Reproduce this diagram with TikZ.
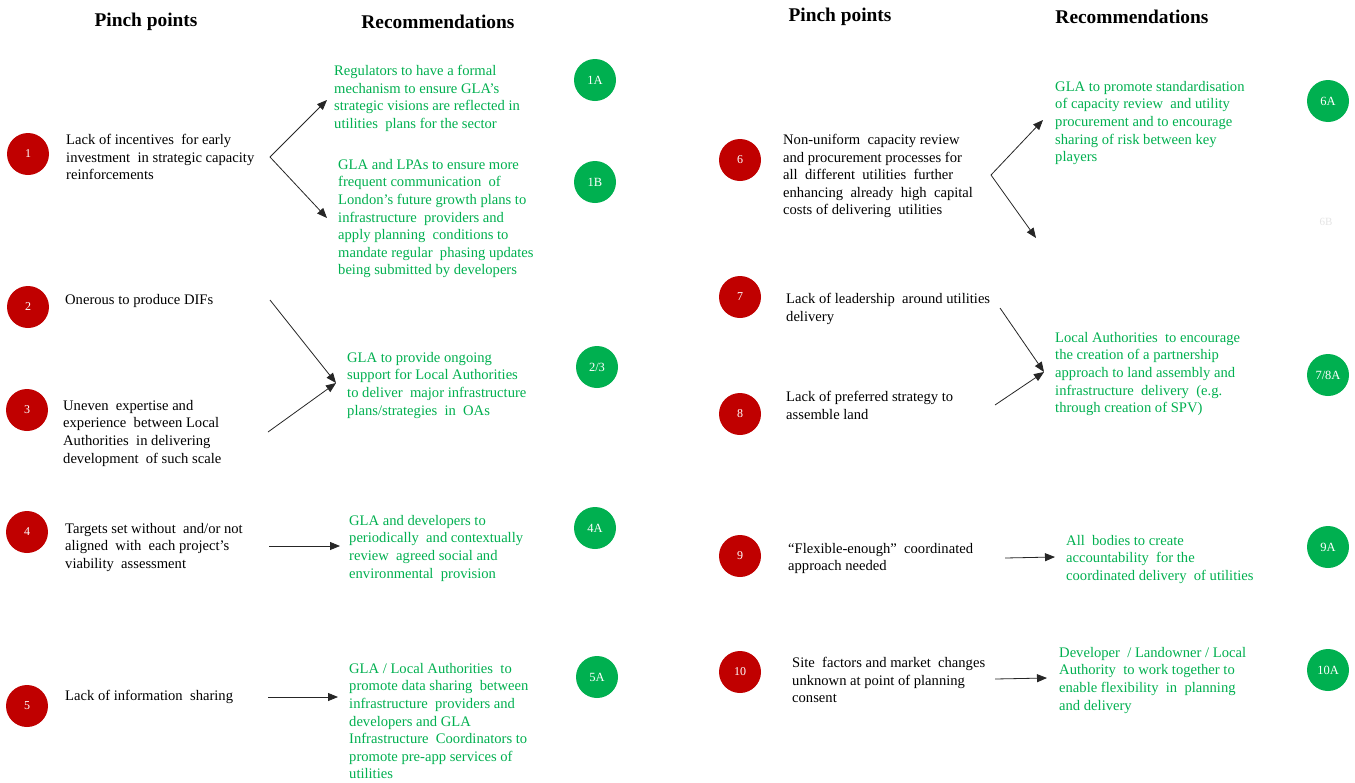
\documentclass[tikz,border=0pt]{standalone}
\usepackage{fontspec}
\setmainfont{Liberation Serif}
\usetikzlibrary{arrows.meta}
\definecolor{pred}{HTML}{C00000}
\definecolor{rgreen}{HTML}{00B050}
\tikzset{
  pin/.style={circle,fill=pred,minimum size=42pt,inner sep=0pt,text=white,font=\fontsize{12}{14}\selectfont},
  rec/.style={circle,fill=rgreen,minimum size=42pt,inner sep=0pt,text=white,font=\fontsize{12.5}{14}\selectfont},
  ptext/.style={anchor=north west,yshift=9pt,align=left,inner sep=0pt,text=black,font=\fontsize{14.6}{17.6}\selectfont},
  rtext/.style={anchor=north west,yshift=9pt,align=left,inner sep=0pt,text=rgreen,font=\fontsize{14.6}{17.6}\selectfont},
  head/.style={font=\fontsize{19.4}{22}\selectfont\bfseries,inner sep=0pt},
  conn/.style={-{Triangle[length=10pt,width=8pt]},line width=0.8pt,draw=black!85}
}
\begin{document}
\begin{tikzpicture}[x=1pt,y=-1pt]
\useasboundingbox[fill=white] (0,0) rectangle (1355,782);
% headers
\node[head] (hp1) at (146,21.5) {Pinch points};
\node[head] (hr1) at (438,21.5) {Recommendations};
\node[head] (hp2) at (840,16.5) {Pinch points};
\node[head] (hr2) at (1132,16.5) {Recommendations};
% left pinch circles
\node[pin] (c1) at (28,154) {1};
\node[pin] (c2) at (28,307) {2};
\node[pin] (c3) at (27,410) {3};
\node[pin] (c4) at (27,532) {4};
\node[pin] (c5) at (27,706) {5};
% right pinch circles
\node[pin] (c6) at (740,160) {6};
\node[pin] (c7) at (740,297) {7};
\node[pin] (c8) at (740,414) {8};
\node[pin] (c9) at (740,556) {9};
\node[pin] (c10) at (740,672) {10};
% recommendation circles
\node[rec] (g1a) at (595,80) {1A};
\node[rec] (g1b) at (595,182) {1B};
\node[rec] (g23) at (597,367) {2/3};
\node[rec] (g4a) at (595,528) {4A};
\node[rec] (g5a) at (597,677) {5A};
\node[rec] (g6a) at (1328,101) {6A};
\node[text=black!10,font=\fontsize{11}{12}\selectfont,inner sep=0pt] (g6b) at (1326,222) {6B};
\node[rec] (g78) at (1328,375) {7/8A};
\node[rec] (g9a) at (1328,547) {9A};
\node[rec] (g10a) at (1328,670) {10A};
% pinch texts left
\node[ptext] (p1) at (66,143) {Lack of incentives\ \ for early\\investment\ \ in strategic capacity\\reinforcements};
\node[ptext] (p2) at (65,303) {Onerous to produce DIFs};
\node[ptext] (p3) at (63,409) {Uneven\ \ expertise and\\experience\ \ between Local\\Authorities\ \ in delivering\\development\ \ of such scale};
\node[ptext] (p4) at (65,532) {Targets set without\ \ and/or not\\aligned\ \ with\ \ each project’s\\viability\ \ assessment};
\node[ptext] (p5) at (65,699) {Lack of information\ \ sharing};
% rec texts left
\node[rtext] (r1a) at (334,74) {Regulators to have a formal\\mechanism to ensure GLA’s\\strategic visions are reflected in\\utilities\ \ plans for the sector};
\node[rtext] (r1b) at (338,168) {GLA and LPAs to ensure more\\frequent communication\ \ of\\London’s future growth plans to\\infrastructure\ \ providers and\\apply planning\ \ conditions to\\mandate regular\ \ phasing updates\\being submitted by developers};
\node[rtext] (r23) at (347,361) {GLA to provide ongoing\\support for Local Authorities\\to deliver\ \ major infrastructure\\plans/strategies\ \ in\ \ OAs};
\node[rtext] (r4a) at (349,524) {GLA and developers to\\periodically\ \ and contextually\\review\ \ agreed social and\\environmental\ \ provision};
\node[rtext] (r5a) at (349,672) {GLA / Local Authorities\ \ to\\promote data sharing\ \ between\\infrastructure\ \ providers and\\developers and GLA\\Infrastructure\ \ Coordinators to\\promote pre-app services of\\utilities};
% pinch texts right
\node[ptext] (p6) at (783,143) {Non-uniform\ \ capacity review\\and procurement processes for\\all\ \ different\ \ utilities\ \ further\\enhancing\ \ already\ \ high\ \ capital\\costs of delivering\ \ utilities};
\node[ptext] (p7) at (786,302) {Lack of leadership\ \ around utilities\\delivery};
\node[ptext] (p8) at (786,400) {Lack of preferred strategy to\\assemble land};
\node[ptext] (p9) at (788,552) {“Flexible-enough”\ \ coordinated\\approach needed};
\node[ptext] (p10) at (792,666) {Site\ \ factors and market\ \ changes\\unknown at point of planning\\consent};
% rec texts right
\node[rtext] (r6a) at (1055,90) {GLA to promote standardisation\\of capacity review\ \ and utility\\procurement and to encourage\\sharing of risk between key\\players};
\node[rtext] (r78) at (1055,341) {Local Authorities\ \ to encourage\\the creation of a partnership\\approach to land assembly and\\infrastructure\ \ delivery\ \ (e.g.\\through creation of SPV)};
\node[rtext] (r9a) at (1066,544) {All\ \ bodies to create\\accountability\ \ for the\\coordinated delivery\ \ of utilities};
\node[rtext] (r10a) at (1059,656) {Developer\ \ / Landowner / Local\\Authority\ \ to work together to\\enable flexibility\ \ in\ \ planning\\and delivery};
% connector coordinates
\coordinate (s1) at (270,157);
\coordinate (e1a) at (327,100);
\coordinate (e1b) at (327,218);
\coordinate (s2) at (270,300);
\coordinate (s3) at (268,432);
\coordinate (e23) at (336,383);
\coordinate (s4) at (269,546);
\coordinate (e4) at (340,546);
\coordinate (s5) at (268,697);
\coordinate (e5) at (338,697);
\coordinate (s6) at (991,175);
\coordinate (e6a) at (1043,120);
\coordinate (e6b) at (1036,238);
\coordinate (s7) at (1000,308);
\coordinate (s8) at (995,405);
\coordinate (e78) at (1044,372);
\coordinate (s9) at (1005,558);
\coordinate (e9) at (1055,557);
\coordinate (s10) at (995,679);
\coordinate (e10) at (1047,678);
% connectors
\draw[conn] (s1) -- (e1a);
\draw[conn] (s1) -- (e1b);
\draw[conn] (s2) -- (e23);
\draw[conn] (s3) -- (e23);
\draw[conn] (s4) -- (e4);
\draw[conn] (s5) -- (e5);
\draw[conn] (s6) -- (e6a);
\draw[conn] (s6) -- (e6b);
\draw[conn] (s7) -- (e78);
\draw[conn] (s8) -- (e78);
\draw[conn] (s9) -- (e9);
\draw[conn] (s10) -- (e10);
\end{tikzpicture}
\end{document}
